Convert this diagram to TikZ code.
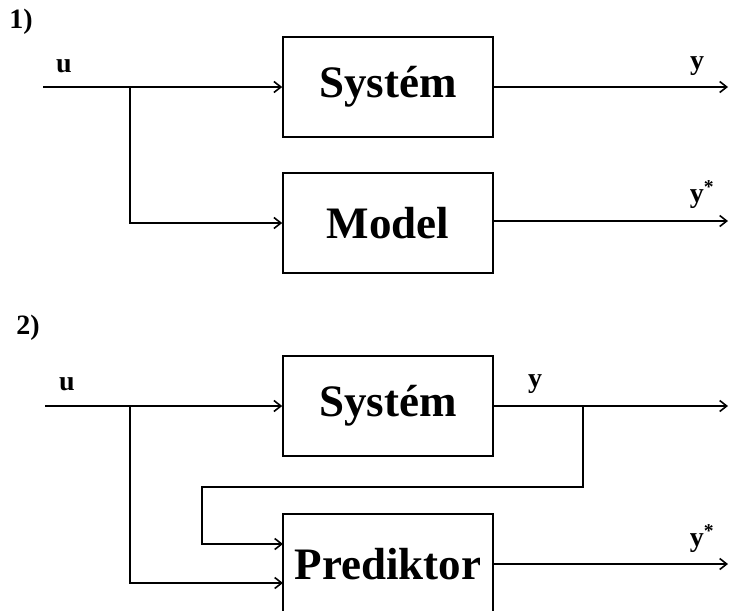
\documentclass[tikz,border=0pt]{standalone}
\usepackage{fontspec}
\usetikzlibrary{arrows.meta}
\setmainfont{Liberation Serif}
\begin{document}
\begin{tikzpicture}
  [x=1pt,y=-1pt,line width=1.6pt,>={Straight Barb[length=7pt,width=11pt]},
   block/.style={draw,minimum width=210pt,minimum height=100pt,
     font=\fontsize{45}{50}\selectfont\bfseries},
   lbl/.style={font=\fontsize{28}{32}\selectfont\bfseries}]
  \clip (0,0) rectangle (729,611);

  % part 1
  \node[lbl] (t1) at (21,22) {1)};
  \node[block] (sys1) at (388,87) {Systém};
  \node[block] (mod1) at (388,223) {Model};
  \coordinate (in1) at (43,87);
  \coordinate (b1) at (130,87);
  \coordinate (out1) at (728,87);
  \coordinate (out2) at (728,221);
  \node[lbl] (u1) at (64,66) {u};
  \node[lbl] (y1) at (697,66) {y};
  \node[lbl] (ys1) at (702,195) {y\textsuperscript{*}};

  \draw[->] (in1) -- (sys1.west);
  \draw[->] (b1) |- (mod1.west);
  \draw[->] (sys1.east) -- (out1);
  \draw[->] (mod1.east |- out2) -- (out2);

  % part 2
  \node[lbl] (t2) at (28,328) {2)};
  \node[block] (sys2) at (388,406) {Systém};
  \node[block] (pred) at (388,564) {Prediktor};
  \coordinate (in2) at (45,406);
  \coordinate (b2) at (130,406);
  \coordinate (b3) at (583,406);
  \coordinate (fbk) at (202,487);
  \coordinate (pin1) at (283,544);
  \coordinate (pin2) at (283,583);
  \coordinate (out3) at (728,406);
  \coordinate (out4) at (728,564);
  \node[lbl] (u2) at (67,384) {u};
  \node[lbl] (y2) at (535,384) {y};
  \node[lbl] (ys2) at (702,539) {y\textsuperscript{*}};

  \draw[->] (in2) -- (sys2.west);
  \draw[->] (b2) |- (pin2);
  \draw[->] (sys2.east) -- (out3);
  \draw[->] (b3) |- (fbk) |- (pin1);
  \draw[->] (pred.east) -- (out4);

\end{tikzpicture}
\end{document}
